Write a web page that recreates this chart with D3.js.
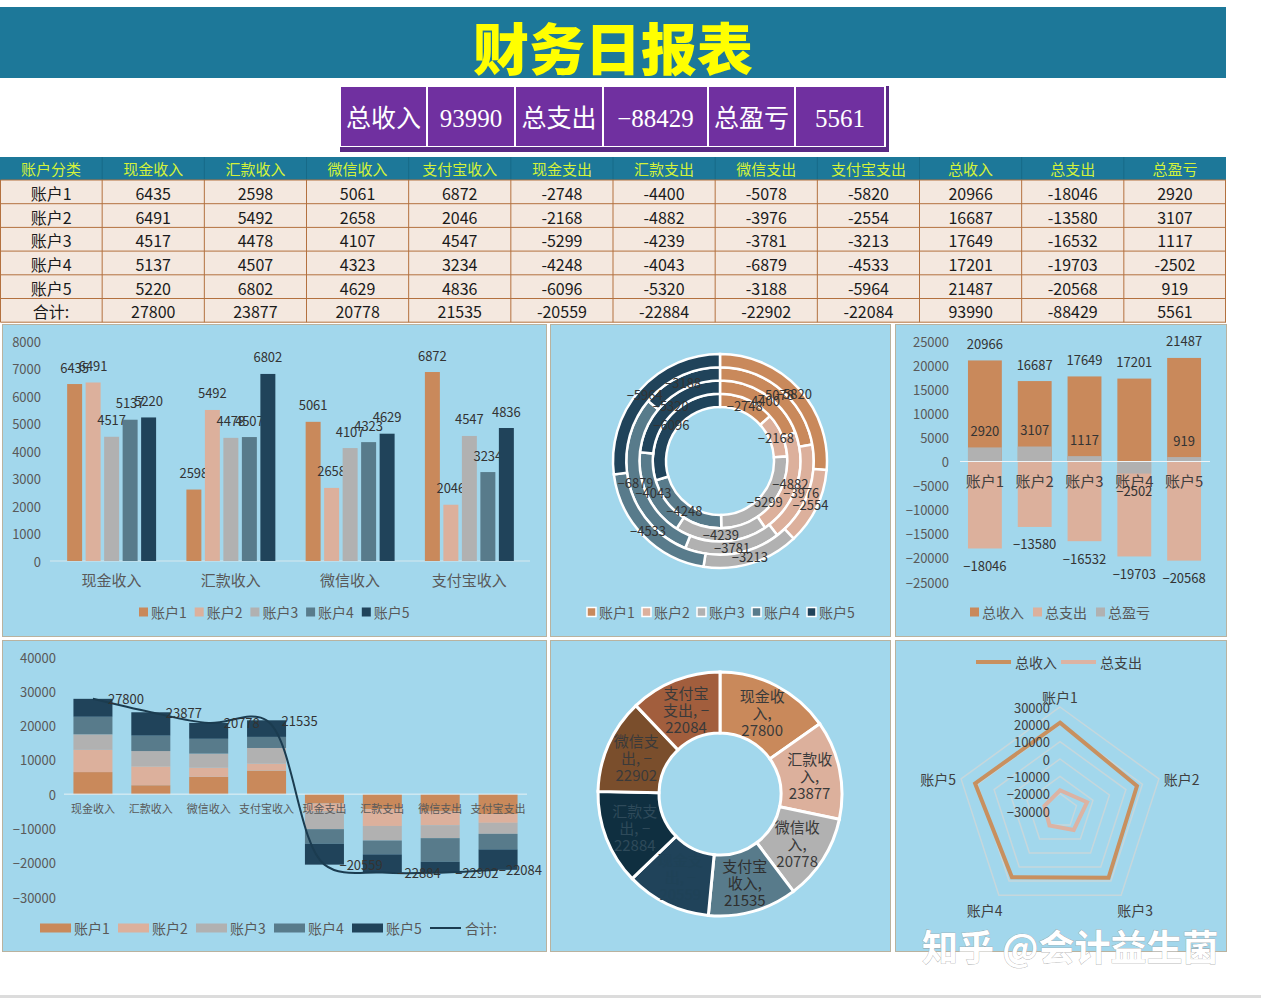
<!DOCTYPE html>
<html><head><meta charset="utf-8">
<script src="https://cdn.jsdelivr.net/npm/d3@7"></script>
<style>
body{margin:0;background:#fff;}
svg{display:block;}
text{font-family:"Noto Sans CJK SC","Noto Sans",sans-serif;}
</style>
</head><body>
<svg id="c" width="1261" height="998"></svg>
<script>
// ---------------- DATA ----------------
const title = "财务日报表";
const kpiLabels = ["总收入","总支出","总盈亏"];
const kpiValues = [93990, -88429, 5561];
const tableHeader = ["账户分类","现金收入","汇款收入","微信收入","支付宝收入","现金支出","汇款支出","微信支出","支付宝支出","总收入","总支出","总盈亏"];
const accounts = ["账户1","账户2","账户3","账户4","账户5"];
const incomeCats = ["现金收入","汇款收入","微信收入","支付宝收入"];
const expenseCats = ["现金支出","汇款支出","微信支出","支付宝支出"];
const cashIn      = [6435, 6491, 4517, 5137, 5220];
const transferIn  = [2598, 5492, 4478, 4507, 6802];
const wechatIn    = [5061, 2658, 4107, 4323, 4629];
const alipayIn    = [6872, 2046, 4547, 3234, 4836];
const cashOut     = [-2748, -2168, -5299, -4248, -6096];
const transferOut = [-4400, -4882, -4239, -4043, -5320];
const wechatOut   = [-5078, -3976, -3781, -6879, -3188];
const alipayOut   = [-5820, -2554, -3213, -4533, -5964];
const totalIn     = [20966, 16687, 17649, 17201, 21487];
const totalOut    = [-18046, -13580, -16532, -19703, -20568];
const totalPL     = [2920, 3107, 1117, -2502, 919];
const sumLabel    = "合计:";
const sumRow      = [27800, 23877, 20778, 21535, -20559, -22884, -22902, -22084, 93990, -88429, 5561];
const plSeries    = ["总收入","总支出","总盈亏"];
const radarSeries = ["总收入","总支出"];
const ticks1 = [0,1000,2000,3000,4000,5000,6000,7000,8000];
const ticks3 = [-25000,-20000,-15000,-10000,-5000,0,5000,10000,15000,20000,25000];
const ticks4 = [-30000,-20000,-10000,0,10000,20000,30000,40000];
const ticksRadar = [-30000,-20000,-10000,0,10000,20000,30000];
const watermark = "知乎 @会计益生菌";

// ---------------- STYLE ----------------
const accColors = ["#c9895b","#dcb09c","#b1b1b1","#587b8b","#20435a"];
const donutColors = ["#c9895b","#dcb09c","#b1b1b1","#587b8b","#20435a","#0f2f40","#7a4e2c","#a25e3d"];
const donutTextColors = ["#3a3a3a","#3a3a3a","#3a3a3a","#2f2f2f","#1f4257","#2e4a5a","#3a3a3a","#3a3a3a"];
const plColors = ["#c9895b","#dcb09c","#b1b1b1"];
const radarColors = ["#c8905f","#dcb3a3"];
const TXT = "#404040", AX = "#595959";
const PANEL_BG = "#a2d7ec", PANEL_BORDER = "#b9b29f";

const svg = d3.select("#c");
function txt(g, x, y, s, size, fill, anchor){
  return g.append("text").attr("x",x).attr("y",y).attr("font-size",size).attr("fill",fill||TXT)
    .attr("text-anchor",anchor||"middle").attr("dominant-baseline","central").text(s);
}

// ---------------- TITLE ----------------
svg.append("rect").attr("x",0).attr("y",7).attr("width",1226).attr("height",71).attr("fill","#1d7899");
svg.append("text").attr("x",613).attr("y",45).attr("text-anchor","middle").attr("dominant-baseline","central")
  .attr("font-size",56).attr("font-weight",900).attr("fill","#ffff00").text(title);

// ---------------- KPI ----------------
const kpiEdges = [340,427,515,603,708,795,885];
const kpiCells = [];
kpiLabels.forEach((l,i)=>{kpiCells.push(l); kpiCells.push(String(kpiValues[i]).replace("-","−"));});
svg.append("rect").attr("x",340).attr("y",86).attr("width",549).attr("height",66).attr("fill","#5a2a85");
svg.append("rect").attr("x",339).attr("y",85).attr("width",547).attr("height",62).attr("fill","#ffffff");
kpiCells.forEach((c,i)=>{
  const x0=kpiEdges[i], x1=kpiEdges[i+1];
  svg.append("rect").attr("x",x0+1).attr("y",87).attr("width",x1-x0-2).attr("height",59).attr("fill","#7030a0");
  svg.append("text").attr("x",(x0+x1)/2).attr("y",118).attr("text-anchor","middle").attr("dominant-baseline","central")
    .attr("font-size",25).attr("fill","#fff").style("font-family",'"Liberation Serif","Noto Sans CJK SC",serif').text(c);
});

// ---------------- TABLE ----------------
const colW = 1226/12, hdrY = 157, hdrH = 23, rowY0 = 180, rowH = 23.7;
const tableRows = accounts.map((a,i)=>[a,cashIn[i],transferIn[i],wechatIn[i],alipayIn[i],cashOut[i],transferOut[i],wechatOut[i],alipayOut[i],totalIn[i],totalOut[i],totalPL[i]]);
tableRows.push([sumLabel, ...sumRow]);
const tg = svg.append("g");
tg.append("rect").attr("x",0).attr("y",hdrY).attr("width",1226).attr("height",hdrH).attr("fill","#1d7899");
tableHeader.forEach((h,i)=>{
  txt(tg, colW*i+colW/2, hdrY+hdrH/2, h, 15, "#d4f23a");
  if(i>0) tg.append("line").attr("x1",colW*i).attr("x2",colW*i).attr("y1",hdrY).attr("y2",hdrY+hdrH).attr("stroke","#176a88");
});
tg.append("rect").attr("x",0.5).attr("y",rowY0).attr("width",1225.5).attr("height",rowH*tableRows.length).attr("fill","#f4e8df");
tableRows.forEach((r,ri)=>{
  r.forEach((v,ci)=>{ txt(tg, colW*ci+colW/2, rowY0+rowH*ri+rowH/2+1, String(v), 16, "#1a1a1a"); });
});
for(let ri=0; ri<=tableRows.length; ri++){
  tg.append("line").attr("x1",0.5).attr("x2",1226).attr("y1",rowY0+rowH*ri).attr("y2",rowY0+rowH*ri).attr("stroke","#b3713f");
}
for(let ci=0; ci<=12; ci++){
  const x = ci===0?0.5:Math.min(colW*ci,1225.5);
  tg.append("line").attr("x1",x).attr("x2",x).attr("y1",rowY0).attr("y2",rowY0+rowH*tableRows.length).attr("stroke","#b3713f");
}

// ---------------- PANELS ----------------
function panel(x,y,w,h){
  const g = svg.append("g");
  g.append("rect").attr("x",x+0.5).attr("y",y+0.5).attr("width",w).attr("height",h).attr("fill",PANEL_BG).attr("stroke",PANEL_BORDER);
  return g;
}
function squareLegend(g, items, colors, x0, step, y, border){
  items.forEach((it,i)=>{
    const x = x0 + i*step;
    g.append("rect").attr("x",x).attr("y",y-4.5).attr("width",9).attr("height",9).attr("fill",colors[i])
      .attr("stroke",border?"#fff":"none").attr("stroke-width",border?1.5:0);
    txt(g, x+12, y, it, 14, AX, "start");
  });
}

// ---- Panel 1: clustered income bars ----
{
  const g = panel(2,324,544,312);
  const incomeData = [cashIn, transferIn, wechatIn, alipayIn];
  const x = d3.scaleBand().domain(incomeCats).range([52,529]).paddingInner(0.254).paddingOuter(0.127);
  const xi = d3.scaleBand().domain(accounts).range([0,x.bandwidth()]).paddingInner(0.19);
  const y = d3.scaleLinear().domain([0,8000]).range([561,341]);
  ticks1.forEach(t=>txt(g, 41, y(t), String(t), 13, AX, "end"));
  g.append("line").attr("x1",50).attr("x2",530).attr("y1",y(0)).attr("y2",y(0)).attr("stroke","#d6e8ee");
  incomeCats.forEach((c,ci)=>{
    accounts.forEach((a,ai)=>{
      const v = incomeData[ci][ai];
      const bx = x(c)+xi(a);
      g.append("rect").attr("x",bx).attr("y",y(v)).attr("width",xi.bandwidth()).attr("height",y(0)-y(v)).attr("fill",accColors[ai]);
      txt(g, bx+xi.bandwidth()/2, y(v)-17, String(v), 13, "#333");
    });
    txt(g, x(c)+x.bandwidth()/2, 579, c, 15, AX);
  });
  squareLegend(g, accounts, accColors, 139, 55.7, 612, false);
}

// ---- Panel 2: nested expense donut ----
{
  const g = panel(550,324,340,312);
  const rings = [cashOut, transferOut, wechatOut, alipayOut];
  const cx = 720, cy = 461, r0 = 54, r1 = 107, th = (r1-r0)/rings.length;
  const pie = d3.pie().sort(null).value(d=>Math.abs(d));
  const cg = g.append("g").attr("transform",`translate(${cx},${cy})`);
  const labels = [];
  rings.forEach((vals,ri)=>{
    const arc = d3.arc().innerRadius(r0+ri*th).outerRadius(r0+(ri+1)*th);
    pie(vals).forEach((p,ai)=>{
      cg.append("path").attr("d",arc(p)).attr("fill",accColors[ai]).attr("stroke","#fff").attr("stroke-width",2.5);
      labels.push([arc.centroid(p), p.data]);
    });
  });
  labels.forEach(([c,v])=>txt(cg, c[0], c[1], String(v).replace("-","−"), 13, "#333"));
  squareLegend(g, accounts, accColors, 587, 55, 612, true);
}

// ---- Panel 3: income / expense / P&L per account ----
{
  const g = panel(895,324,331,312);
  const series = [totalIn, totalOut, totalPL];
  const x = d3.scaleBand().domain(accounts).range([960,1209]).paddingInner(0.32).paddingOuter(0.16);
  const y = d3.scaleLinear().domain([-25000,25000]).range([582,341]);
  ticks3.forEach(t=>txt(g, 949, y(t), String(t).replace("-","−"), 13, AX, "end"));
  series.forEach((vals,si)=>{
    vals.forEach((v,ai)=>{
      g.append("rect").attr("x",x(accounts[ai])).attr("y",Math.min(y(v),y(0))).attr("width",x.bandwidth())
        .attr("height",Math.abs(y(v)-y(0))).attr("fill",plColors[si]);
    });
  });
  g.append("line").attr("x1",960).attr("x2",1210).attr("y1",y(0)).attr("y2",y(0)).attr("stroke","#eef5f8");
  accounts.forEach(a=>txt(g, x(a)+x.bandwidth()/2, 480, a, 15, TXT));
  series.forEach(vals=>{
    vals.forEach((v,ai)=>{
      txt(g, x(accounts[ai])+x.bandwidth()/2, y(v)+(v>=0?-17:17), String(v).replace("-","−"), 13, "#333");
    });
  });
  squareLegend(g, plSeries, plColors, 970, 63, 612, false);
}

// ---- Panel 4: stacked income/expense + total line ----
{
  const g = panel(2,640,544,311);
  const allCats = incomeCats.concat(expenseCats);
  const catData = [cashIn, transferIn, wechatIn, alipayIn, cashOut, transferOut, wechatOut, alipayOut];
  const rows = allCats.map((c,ci)=>{ const o={cat:c}; accounts.forEach((a,ai)=>o[a]=catData[ci][ai]); return o; });
  const stack = d3.stack().keys(accounts).offset(d3.stackOffsetDiverging)(rows);
  const x = d3.scaleBand().domain(allCats).range([64,527]).paddingInner(0.326).paddingOuter(0.163);
  const y = d3.scaleLinear().domain([-30000,40000]).range([897,657]);
  ticks4.forEach(t=>txt(g, 56, y(t), String(t).replace("-","−"), 13, AX, "end"));
  stack.forEach((layer,ai)=>{
    layer.forEach((d,ci)=>{
      g.append("rect").attr("x",x(allCats[ci])).attr("y",y(Math.max(d[0],d[1]))).attr("width",x.bandwidth())
        .attr("height",Math.abs(y(d[0])-y(d[1]))).attr("fill",accColors[ai]);
    });
  });
  g.append("line").attr("x1",64).attr("x2",527).attr("y1",y(0)).attr("y2",y(0)).attr("stroke","#e6f1f5");
  allCats.forEach(c=>txt(g, x(c)+x.bandwidth()/2, 808, c, 11, AX));
  const pts = allCats.map((c,i)=>[x(c)+x.bandwidth()/2, y(sumRow[i])]);
  g.append("path").attr("d",d3.line().curve(d3.curveCatmullRom)(pts)).attr("fill","none").attr("stroke","#1b3c50").attr("stroke-width",2);
  pts.forEach((p,i)=>{
    const last = i===pts.length-1;
    txt(g, last?542:p[0]+15, p[1], String(sumRow[i]).replace("-","−"), 13, "#333", last?"end":"start");
  });
  // legend
  accounts.forEach((a,i)=>{
    const lx = 40 + i*78;
    g.append("rect").attr("x",lx).attr("y",923.5).attr("width",31).attr("height",9).attr("fill",accColors[i]);
    txt(g, lx+34, 928, a, 14, AX, "start");
  });
  g.append("line").attr("x1",430).attr("x2",461).attr("y1",928).attr("y2",928).attr("stroke","#1b3c50").attr("stroke-width",2);
  txt(g, 465, 928, sumLabel, 14, AX, "start");
}

// ---- Panel 5: 8-slice donut of totals ----
{
  const g = panel(550,640,340,311);
  const allCats = incomeCats.concat(expenseCats);
  const cx = 720, cy = 794;
  const pie = d3.pie().sort(null).value(d=>Math.abs(d));
  const arc = d3.arc().innerRadius(61).outerRadius(122);
  const cg = g.append("g").attr("transform",`translate(${cx},${cy})`);
  const arcs = pie(sumRow.slice(0,8));
  arcs.forEach((p,i)=>cg.append("path").attr("d",arc(p)).attr("fill",donutColors[i]).attr("stroke","#fff").attr("stroke-width",3));
  arcs.forEach((p,i)=>{
    const name = allCats[i], v = p.data;
    const lines = [name.slice(0,3), name.slice(3)+(v<0?", −":","), String(Math.abs(v))];
    const c = arc.centroid(p);
    lines.forEach((l,li)=>txt(cg, c[0], c[1]+(li-1)*17, l, 15, donutTextColors[i]));
  });
}

// ---- Panel 6: radar ----
{
  const g = panel(895,640,331,311);
  const cx = 1060, cy = 811, R = 104;
  const r = d3.scaleLinear().domain([-30000,30000]).range([0,R]);
  const ang = i => i*2*Math.PI/accounts.length;
  const pt = (i,v)=>[cx+Math.sin(ang(i))*r(v), cy-Math.cos(ang(i))*r(v)];
  ticksRadar.filter(t=>t>-30000).forEach(t=>{
    g.append("polygon").attr("points",accounts.map((a,i)=>pt(i,t).join(",")).join(" "))
      .attr("fill","none").attr("stroke","#c6d7dc").attr("stroke-width",1.5);
  });
  [totalIn, totalOut].forEach((vals,si)=>{
    g.append("polygon").attr("points",vals.map((v,i)=>pt(i,v).join(",")).join(" "))
      .attr("fill","none").attr("stroke",radarColors[si]).attr("stroke-width",4).attr("stroke-linejoin","miter");
  });
  ticksRadar.forEach(t=>txt(g, 1050, cy-r(t), String(t).replace("-","−"), 13, TXT, "end"));
  accounts.forEach((a,i)=>{
    txt(g, cx+Math.sin(ang(i))*(R+24), cy-Math.cos(ang(i))*(R+14)+4, a, 14, TXT);
  });
  radarSeries.forEach((s,i)=>{
    const lx = 976 + i*85;
    g.append("line").attr("x1",lx).attr("x2",lx+35).attr("y1",662).attr("y2",662).attr("stroke",radarColors[i]).attr("stroke-width",4);
    txt(g, lx+39, 662, s, 14, TXT, "start");
  });
}

// ---------------- WATERMARK / FOOTER ----------------
svg.append("rect").attr("x",0).attr("y",995).attr("width",1261).attr("height",3).attr("fill","#dcdcdc");
svg.append("text").attr("x",922).attr("y",961).attr("font-size",36).attr("font-weight",700)
  .attr("fill","#ffffff").attr("stroke","#9a9a9a").attr("stroke-width",0.6).attr("paint-order","stroke").text(watermark);
</script>
</body></html>
